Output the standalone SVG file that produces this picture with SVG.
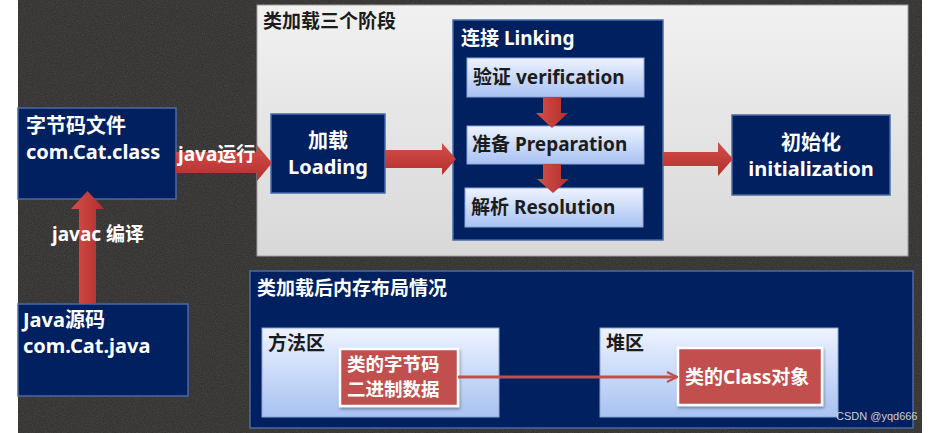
<svg xmlns="http://www.w3.org/2000/svg" width="934" height="433" viewBox="0 0 934 433">
<defs>
<style>
text{font-family:"Noto Sans","Noto Sans CJK SC",sans-serif;font-weight:bold}
.navy{fill:#002060;stroke:#4a6aa6;stroke-width:1.5}
.light{fill:url(#lightG);stroke:#8ea6d6;stroke-width:1}
.redbox{fill:#c0504d;stroke:#ffffff;stroke-width:2.5;filter:url(#sh)}
.wt{fill:#ffffff;font-size:20px}
.dk{fill:#1c1c1c;font-size:19px}
.arrow{fill:url(#redG)}
.arrowV{fill:url(#redGV)}
</style>
<linearGradient id="lightG" x1="0" y1="0" x2="0" y2="1">
<stop offset="0" stop-color="#eef3ff"/>
<stop offset="1" stop-color="#a8c2f2"/>
</linearGradient>
<linearGradient id="grayG" x1="0" y1="0" x2="0" y2="1">
<stop offset="0" stop-color="#f1f1f1"/>
<stop offset="1" stop-color="#d8d8d8"/>
</linearGradient>
<linearGradient id="redG" x1="0" y1="0" x2="0" y2="1">
<stop offset="0" stop-color="#d4504c"/>
<stop offset="1" stop-color="#b32e2c"/>
</linearGradient>
<linearGradient id="redGV" x1="0" y1="0" x2="1" y2="0">
<stop offset="0" stop-color="#d4504c"/>
<stop offset="1" stop-color="#b32e2c"/>
</linearGradient>
<filter id="sh" x="-10%" y="-10%" width="130%" height="140%">
<feDropShadow dx="1" dy="2" stdDeviation="1.5" flood-color="#000" flood-opacity="0.35"/>
</filter>
<filter id="noise" x="0" y="0" width="100%" height="100%">
<feTurbulence type="fractalNoise" baseFrequency="0.9" numOctaves="2" seed="3" result="n"/>
<feColorMatrix type="matrix" values="0 0 0 0 0.6  0 0 0 0 0.6  0 0 0 0 0.6  0 0 0 0.18 0"/>
</filter>
<marker id="chev" viewBox="0 0 12 12" refX="11" refY="6" markerWidth="12" markerHeight="12" markerUnits="userSpaceOnUse" orient="auto">
<path d="M1,1 L11,6 L1,11" fill="none" stroke="#c0504d" stroke-width="2.2"/>
</marker>
</defs>

<rect x="0" y="0" width="934" height="433" fill="#ffffff"/>
<rect x="18" y="0" width="904" height="433" fill="#2d2b29"/>
<rect x="18" y="0" width="904" height="433" filter="url(#noise)"/>

<g id="stages-panel">
<rect x="257" y="5" width="651" height="251" fill="url(#grayG)" stroke="#a0a0a0" stroke-width="1"/>
<text x="263" y="28" class="dk" style="font-size:19px">类加载三个阶段</text>
</g>

<g id="memory-panel">
<rect x="250" y="271" width="663" height="157" class="navy"/>
<text x="257" y="295" class="wt" style="font-size:19px">类加载后内存布局情况</text>
</g>

<g id="bytecode-file">
<rect x="18" y="108" width="158" height="91" class="navy"/>
<text class="wt"><tspan x="26" y="133">字节码文件</tspan><tspan x="26" y="159">com.Cat.class</tspan></text>
</g>

<g id="java-source">
<rect x="18" y="304" width="170" height="92" class="navy"/>
<text class="wt"><tspan x="23" y="327">Java源码</tspan><tspan x="23" y="353">com.Cat.java</tspan></text>
</g>

<g id="loading">
<rect x="271" y="114" width="114" height="79" class="navy"/>
<text class="wt" text-anchor="middle"><tspan x="328" y="148">加载</tspan><tspan x="328" y="174">Loading</tspan></text>
</g>

<g id="linking">
<rect x="453" y="20" width="210" height="220" class="navy"/>
<text x="461" y="45" class="wt" style="font-size:19px">连接 Linking</text>
</g>

<g id="verification">
<rect x="467" y="58" width="177" height="39" class="light"/>
<text x="473" y="84" class="dk">验证 verification</text>
</g>

<g id="preparation">
<rect x="467" y="126" width="177" height="38" class="light"/>
<text x="472" y="151" class="dk">准备 Preparation</text>
</g>

<g id="resolution">
<rect x="465" y="188" width="178" height="39" class="light"/>
<text x="471" y="214" class="dk">解析 Resolution</text>
</g>

<g id="initialization">
<rect x="732" y="115" width="158" height="80" class="navy"/>
<text class="wt" text-anchor="middle"><tspan x="811" y="150">初始化</tspan><tspan x="811" y="176">initialization</tspan></text>
</g>

<g id="method-area">
<rect x="262" y="328" width="237" height="89" class="light"/>
<text x="268" y="350" class="dk">方法区</text>
</g>

<g id="heap">
<rect x="600" y="328" width="238" height="89" class="light"/>
<text x="606" y="350" class="dk">堆区</text>
</g>

<g id="bytecode-data">
<rect x="340" y="349" width="118" height="57" class="redbox"/>
<text class="wt" style="font-size:18.5px"><tspan x="347" y="371">类的字节码</tspan><tspan x="347" y="396">二进制数据</tspan></text>
</g>

<g id="class-object">
<rect x="678" y="348" width="144" height="57" class="redbox"/>
<text x="685" y="384" class="wt" style="font-size:19px">类的Class对象</text>
</g>

<g id="connectors">
<polygon class="arrow" points="176,152 257,152 257,145 272,163 257,181 257,173 176,173"/>
<polygon class="arrow" points="385,150 442,150 442,143 456,159 442,175 442,168 385,168"/>
<polygon class="arrow" points="663,152 718,152 718,142 733,159 718,176 718,166 663,166"/>
<polygon class="arrowV" points="543,97 561,97 561,113 568,113 552,128 536,113 543,113"/>
<polygon class="arrowV" points="543,164 561,164 561,179 569,179 553,193 537,179 543,179"/>
<polygon class="arrowV" points="79,304 96,304 96,209 104,209 87.5,191 71,209 79,209"/>
<line x1="458" y1="377" x2="677" y2="377" stroke="#c0504d" stroke-width="3" marker-end="url(#chev)"/>
<text x="178" y="161" class="wt" style="font-size:19px">java运行</text>
<text x="52" y="241" class="wt" style="font-size:19px">javac 编译</text>
</g>

<text x="836" y="420" style="font-family:'Liberation Sans',sans-serif;font-weight:normal;font-size:11px;fill:#cfcfcf">CSDN @yqd666</text>
</svg>
